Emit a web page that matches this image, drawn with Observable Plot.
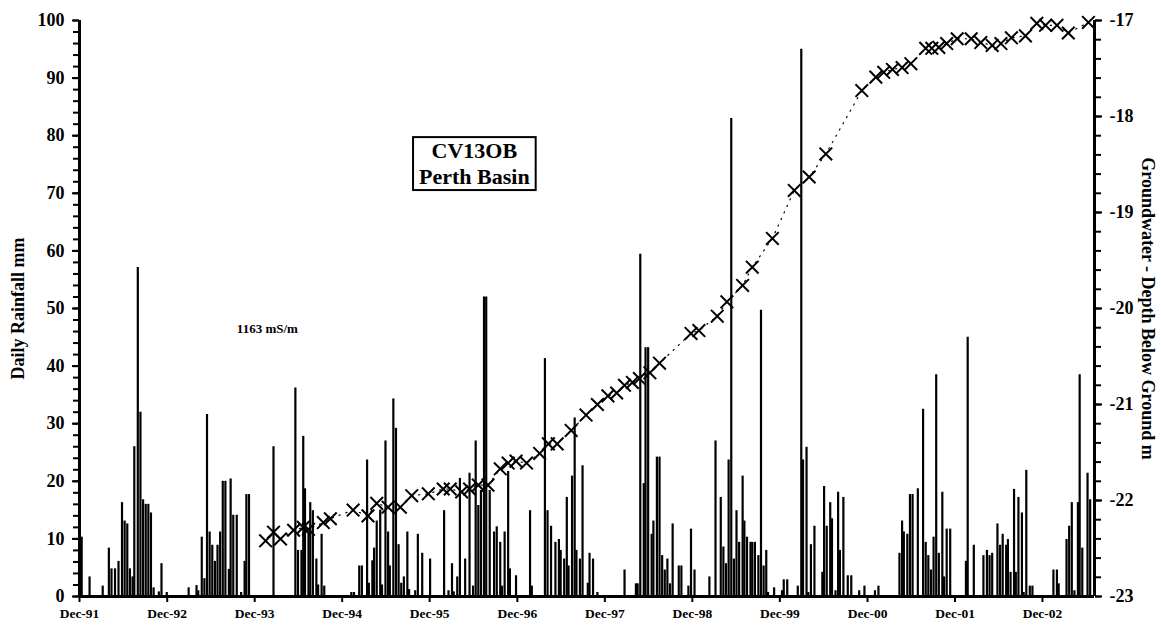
<!DOCTYPE html>
<html>
<head>
<meta charset="utf-8">
<script src="https://cdn.jsdelivr.net/npm/d3@7"></script>
<script src="https://cdn.jsdelivr.net/npm/@observablehq/plot@0.6"></script>
<style>
  html, body { margin: 0; padding: 0; background: #fff; }
  #chart svg { display: block; }
</style>
</head>
<body>
<div id="chart"></div>
<script>
// ---------- data (decimal years) ----------
const rainYear = [
  1991.94,1992.03,1992.18,1992.25,1992.28,1992.32,1992.36,1992.40,1992.43,1992.46,1992.49,1992.52,1992.54,1992.58,1992.61,1992.64,1992.67,1992.70,1992.73,1992.76,1992.82,1992.85,1992.91,
  1993.16,1993.25,1993.27,1993.31,1993.34,1993.37,1993.40,1993.43,1993.46,1993.49,1993.52,1993.55,1993.58,1993.62,1993.64,1993.67,1993.71,1993.76,1993.80,1993.82,1993.85,
  1994.13,1994.38,1994.41,1994.45,1994.47,1994.49,1994.53,1994.55,1994.58,1994.62,1994.64,1994.68,1994.71,
  1995.02,1995.05,1995.11,1995.14,1995.20,1995.22,1995.26,1995.28,1995.31,1995.35,1995.37,1995.41,1995.44,1995.46,1995.50,1995.53,1995.56,1995.59,1995.62,1995.66,1995.68,1995.75,1995.78,1995.83,1995.92,
  1996.08,1996.13,1996.17,1996.19,1996.23,1996.26,1996.32,1996.37,1996.41,1996.44,1996.47,1996.50,1996.535,1996.56,1996.60,1996.65,1996.68,1996.72,1996.74,1996.77,1996.81,1996.83,1996.90,
  1997.06,1997.08,1997.23,1997.26,1997.30,1997.35,1997.39,1997.41,1997.45,1997.48,1997.50,1997.54,1997.57,1997.59,1997.63,1997.66,1997.72,1997.74,1997.78,1997.83,
  1998.14,1998.27,1998.29,1998.32,1998.36,1998.38,1998.41,1998.45,1998.47,1998.51,1998.54,1998.57,1998.60,1998.63,1998.66,1998.69,1998.76,1998.79,1998.87,1998.90,1998.94,
  1999.11,1999.18,1999.24,1999.27,1999.30,1999.33,1999.36,1999.39,1999.42,1999.45,1999.49,1999.51,1999.54,1999.58,1999.60,1999.63,1999.67,1999.70,1999.73,1999.76,1999.78,1999.85,1999.94,1999.96,
  2000.00,2000.12,2000.16,2000.18,2000.22,2000.24,2000.27,2000.31,2000.40,2000.42,2000.45,2000.49,2000.51,2000.55,2000.58,2000.60,2000.64,2000.69,2000.73,2000.82,2000.88,
  2001.00,2001.04,2001.28,2001.31,2001.33,2001.37,2001.40,2001.43,2001.49,2001.55,2001.58,2001.61,2001.64,2001.67,2001.70,2001.73,2001.77,2001.79,2001.82,2001.86,
  2002.04,2002.06,2002.13,2002.24,2002.28,2002.31,2002.34,2002.40,2002.43,2002.46,2002.50,2002.52,2002.55,2002.59,2002.61,2002.64,2002.68,2002.70,2002.73,2002.77,2002.80,
  2003.04,2003.08,2003.10,2003.19,2003.22,2003.25,2003.28,2003.32,2003.34,2003.37,2003.43,2003.46
];
const rainMm = [
  10.3,3.4,1.8,8.4,4.8,4.8,6.1,16.3,13.1,12.6,4.8,3.4,26.0,57.1,32.0,16.8,16.0,16.0,14.5,1.5,0.8,5.7,0.7,
  1.5,1.9,1.0,10.3,3.1,31.6,11.2,8.9,6.1,8.9,11.2,20.0,20.0,4.7,20.4,14.1,14.1,0.7,6.1,17.7,17.7,
  26.0,36.2,8.0,8.0,27.8,18.7,10.9,16.3,14.9,6.5,2.0,10.8,1.8,
  0.7,0.7,5.3,5.3,23.7,2.3,6.2,8.4,13.1,15.0,2.0,27.0,11.2,5.3,34.3,29.2,9.0,2.3,3.4,11.2,1.2,1.0,10.8,7.5,6.5,
  14.9,1.0,5.7,0.8,3.4,20.5,6.5,21.4,1.8,27.0,15.8,18.4,52.0,52.0,18.4,11.2,12.1,9.4,1.8,11.2,21.7,4.8,3.6,
  14.9,1.8,41.3,14.9,12.2,9.4,9.9,8.0,6.5,17.2,5.3,20.9,31.0,8.0,6.5,22.7,2.3,7.5,6.5,0.7,
  4.6,2.2,2.2,59.4,19.6,43.2,43.2,10.8,13.1,24.2,24.2,7.1,4.6,6.5,2.2,12.6,5.3,5.3,1.8,11.7,4.6,
  3.4,27.0,17.2,8.6,5.7,23.7,83.0,6.5,14.9,9.4,20.9,13.1,10.3,9.4,9.4,9.4,7.1,49.7,5.3,8.0,0.7,1.5,1.0,2.9,
  2.9,1.8,95.0,23.7,25.9,0.7,9.0,12.2,4.2,19.1,12.2,16.3,13.5,1.0,18.1,8.0,17.2,3.6,3.6,1.0,1.8,
  1.0,1.8,7.5,13.1,11.2,10.8,17.7,17.7,18.7,32.5,9.4,7.1,4.6,10.3,38.5,7.5,18.1,3.4,11.7,11.7,
  6.1,45.0,8.9,7.1,8.0,7.1,7.5,12.6,8.9,10.8,8.9,9.9,4.2,18.6,4.2,17.2,14.5,0.7,21.9,1.8,1.8,
  4.6,4.6,2.2,9.9,12.2,16.3,1.0,16.3,38.5,8.4,21.4,16.8
];

const gwYear = [
  1994.04,1994.13,1994.21,1994.36,1994.47,1994.53,1994.70,1994.78,1995.04,1995.21,1995.31,1995.44,1995.58,1995.71,1995.90,
  1996.07,1996.15,1996.28,1996.37,1996.47,1996.58,1996.72,1996.81,1996.90,1997.02,1997.17,1997.27,1997.37,1997.53,1997.70,1997.83,1997.95,
  1998.05,1998.14,1998.23,1998.31,1998.43,1998.54,1998.90,1998.99,1999.20,1999.31,1999.49,1999.60,1999.83,
  2000.08,2000.25,2000.44,2000.85,2001.01,2001.10,2001.20,2001.31,2001.41,2001.58,2001.65,2001.73,2001.82,2001.94,
  2002.10,2002.21,2002.34,2002.44,2002.56,2002.72,2002.85,2002.95,2003.08,2003.21,2003.44
];
const gwDepth = [
  -22.42,-22.33,-22.40,-22.31,-22.28,-22.30,-22.23,-22.19,-22.10,-22.16,-22.03,-22.07,-22.07,-21.95,-21.93,
  -21.88,-21.88,-21.91,-21.88,-21.84,-21.84,-21.67,-21.61,-21.59,-21.61,-21.51,-21.41,-21.41,-21.27,-21.11,-21.00,-20.91,
  -20.88,-20.80,-20.77,-20.73,-20.67,-20.57,-20.26,-20.23,-20.08,-19.93,-19.76,-19.57,-19.27,
  -18.77,-18.63,-18.39,-17.73,-17.59,-17.54,-17.51,-17.49,-17.45,-17.29,-17.29,-17.28,-17.24,-17.19,
  -17.19,-17.23,-17.26,-17.24,-17.18,-17.16,-17.03,-17.05,-17.05,-17.13,-17.02
];

const rainTicks = d3.range(0, 101, 10);
const rainMinorTicks = d3.range(0, 101, 2);
const gwTicks = [-23, -22, -21, -20, -19, -18, -17];
const gwMinorTicks = d3.range(0, 31).map(i => -23 + i * 0.2);
const xTickYears = d3.range(1991, 2003); // December of each year
const xDomain = ["1991-12-01", "2003-07-06"];
const gwRange = [-23, -17];

const titleLabel = ["CV13OB\nPerth Basin"];
const titleAt = [1996.425, 75.3];
const noteLabel = ["1163 mS/m"];
const noteAt = [1994.06, 46.5];

const leftTitle = "Daily Rainfall mm";
const rightTitle = "Groundwater - Depth Below Ground m";

// ---------- helpers ----------
function toDate(yr) {
  const y = Math.floor(yr);
  const a = Date.UTC(y, 0, 1), b = Date.UTC(y + 1, 0, 1);
  return new Date(a + (yr - y) * (b - a));
}
// map groundwater depth onto the rainfall scale (shared vertical range)
const gwToY = d => (d - gwRange[0]) / (gwRange[1] - gwRange[0]) * 100;

const rain = rainYear.map((yr, i) => ({date: toDate(yr), mm: rainMm[i]}));
const gw = gwYear.map((yr, i) => ({date: toDate(yr), depth: gwDepth[i], yv: gwToY(gwDepth[i])}));
const xTicks = xTickYears.map(y => new Date(Date.UTC(y, 11, 1)));
const x0 = new Date(xDomain[0] + "T00:00:00Z"), x1 = new Date(xDomain[1] + "T00:00:00Z");

const FONT = '"Liberation Serif", "Times New Roman", Times, serif';

const chart = Plot.plot({
  width: 1161,
  height: 625,
  marginLeft: 79,
  marginRight: 67,
  marginTop: 20,
  marginBottom: 29,
  style: {fontFamily: FONT, fontWeight: "bold", background: "#fff", color: "#000", overflow: "visible"},
  x: {type: "utc", domain: [x0, x1], label: null},
  y: {domain: [0, 100], label: null},
  marks: [
    // rainfall bars
    Plot.ruleX(rain, {x: "date", y1: 0, y2: "mm", stroke: "#000", strokeWidth: 2.2}),
    // groundwater line + markers
    Plot.line(gw, {x: "date", y: "yv", stroke: "#000", strokeWidth: 1.2, strokeDasharray: "1.2,6", curve: "linear"}),
    Plot.dot(gw, {x: "date", y: "yv", symbol: "times", r: 5.8, stroke: "#000", strokeWidth: 2}),
    // left axis
    Plot.axisY({anchor: "left", ticks: rainMinorTicks, tickSize: 6, tickFormat: () => "", strokeWidth: 2, label: null}),
    Plot.axisY({anchor: "left", ticks: rainTicks, tickSize: 7, tickPadding: 8, tickFormat: d => String(d), strokeWidth: 2, fontSize: 18, fontWeight: "bold", label: null}),
    // right axis (groundwater)
    Plot.axisY({anchor: "right", ticks: gwMinorTicks.map(gwToY), tickSize: 6, tickFormat: () => "", strokeWidth: 2, label: null}),
    Plot.axisY({anchor: "right", ticks: gwTicks.map(gwToY), tickSize: 7, tickPadding: 8,
      tickFormat: v => String(Math.round(gwRange[0] + v / 100 * (gwRange[1] - gwRange[0]))), strokeWidth: 2, fontSize: 18, fontWeight: "bold", label: null}),
    // bottom axis
    Plot.axisX({anchor: "bottom", ticks: xTicks, tickSize: 6, tickPadding: 6, tickFormat: d3.utcFormat("%b-%y"), strokeWidth: 2, fontSize: 13.5, fontWeight: "bold", label: null}),
    // axis lines
    Plot.ruleX([x0], {stroke: "#000", strokeWidth: 3}),
    Plot.ruleX([x1], {stroke: "#000", strokeWidth: 3}),
    Plot.ruleY([0], {stroke: "#000", strokeWidth: 3}),
    // axis titles
    Plot.text([leftTitle], {frameAnchor: "left", dx: -61, rotate: -90, textAnchor: "middle", fontSize: 18, fontWeight: "bold", fill: "#000"}),
    Plot.text([rightTitle], {frameAnchor: "right", dx: 53, rotate: 90, textAnchor: "middle", fontSize: 18, fontWeight: "bold", fill: "#000"}),
    // annotations
    Plot.text(titleLabel, {x: () => toDate(titleAt[0]), y: () => titleAt[1], fontSize: 22, fontWeight: "bold", lineHeight: 1.18, lineAnchor: "middle", fill: "#000"}),
    Plot.text(noteLabel, {x: () => toDate(noteAt[0]), y: () => noteAt[1], fontSize: 13, fontWeight: "bold", fill: "#000"})
  ]
});

document.getElementById("chart").append(chart);

// frame around the station label
const lab = [...chart.querySelectorAll("text")].find(e => e.textContent.includes("CV13OB"));
if (lab) {
  const b = lab.getBBox();
  const padX = 6, padY = 1;
  const r = document.createElementNS("http://www.w3.org/2000/svg", "rect");
  r.setAttribute("x", b.x - padX);
  r.setAttribute("y", b.y - padY);
  r.setAttribute("width", b.width + 2 * padX);
  r.setAttribute("height", b.height + 2 * padY);
  r.setAttribute("fill", "#fff");
  r.setAttribute("stroke", "#000");
  r.setAttribute("stroke-width", 2);
  const tr = lab.getAttribute("transform");
  if (tr) r.setAttribute("transform", tr);
  lab.parentNode.insertBefore(r, lab);
}
</script>
</body>
</html>
